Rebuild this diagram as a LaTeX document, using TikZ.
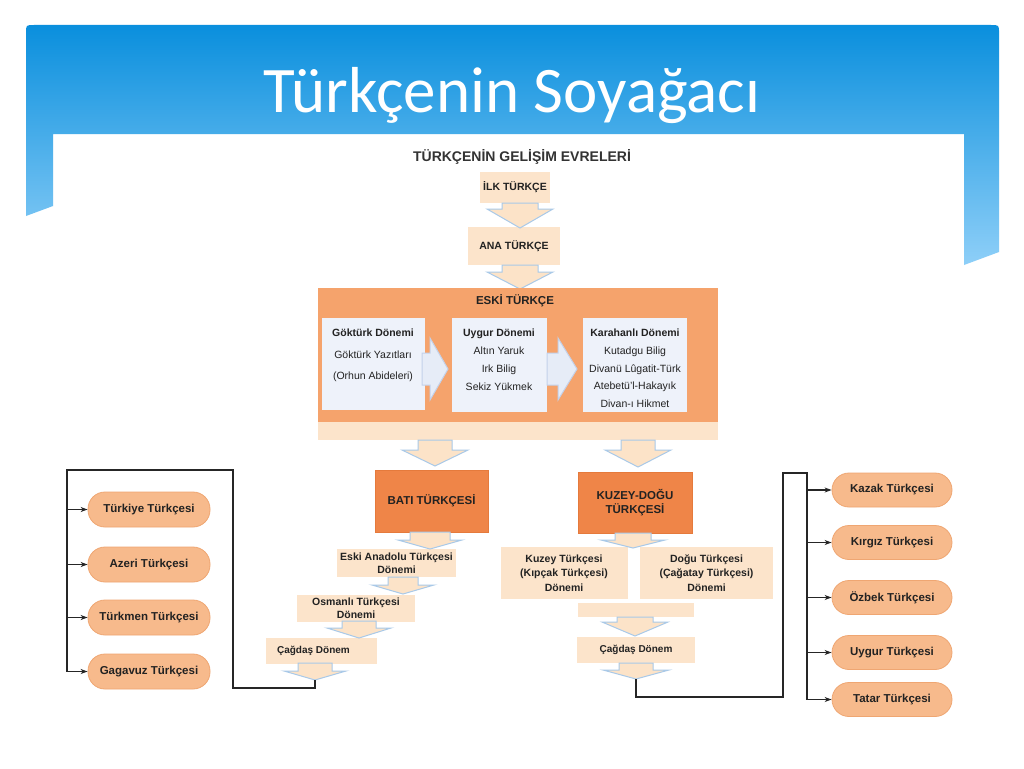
\documentclass[tikz,border=0pt]{standalone}
\usepackage{fontspec}
\setmainfont{Liberation Sans}
\newfontfamily\titlefont{Carlito}
\usetikzlibrary{arrows.meta}
\definecolor{peach}{HTML}{FCE4CB}
\definecolor{eskiorange}{HTML}{F5A36C}
\definecolor{darkor}{HTML}{EF8548}
\definecolor{darkoredge}{HTML}{E57A3C}
\definecolor{pillfill}{HTML}{F7BA8C}
\definecolor{pilledge}{HTML}{EFA672}
\definecolor{innerfill}{HTML}{EEF2FA}
\definecolor{arredge}{HTML}{A9C9E8}
\definecolor{arrfill}{HTML}{FCE3C8}
\definecolor{rarrfill}{HTML}{E6ECF7}
\definecolor{rarredge}{HTML}{C3D1EA}
\definecolor{blueTop}{HTML}{0A8FDD}
\definecolor{blueBot}{HTML}{8ECFF8}
\definecolor{inktext}{HTML}{222222}
\newcommand{\bdown}[6]{\draw[barrow] ({#1-#5},#2) -- ({#1+#5},#2) -- ({#1+#5},#3) -- ({#1+#6},#3) -- (#1,#4) -- ({#1-#6},#3) -- ({#1-#5},#3) -- cycle;}
\newcommand{\bright}[6]{\draw[rarrow] (#2,{#1-#5}) -- (#2,{#1+#5}) -- (#3,{#1+#5}) -- (#3,{#1+#6}) -- (#4,#1) -- (#3,{#1-#6}) -- (#3,{#1-#5}) -- cycle;}
\tikzset{
  barrow/.style={fill=arrfill, draw=arredge, line width=1pt, line join=miter},
  rarrow/.style={fill=rarrfill, draw=rarredge, line width=1pt},
  pbox/.style={fill=peach, draw=none, inner sep=0pt, align=center, text=inktext,
    font=\fontsize{10.5}{13.5}\selectfont\bfseries},
  obox/.style={fill=darkor, draw=darkoredge, line width=0.8pt, inner sep=0pt, align=center, text=inktext,
    font=\fontsize{11.5}{14}\selectfont\bfseries},
  ibox/.style={fill=innerfill, draw=none, inner sep=0pt},
  itext/.style={align=center, inner sep=0pt, anchor=north, text=inktext,
    font=\fontsize{10.5}{18}\selectfont},
  pillL/.style={fill=pillfill, draw=pilledge, line width=0.8pt, rounded corners=17pt,
    minimum width=122pt, minimum height=35pt, inner sep=0pt, text=inktext,
    font=\fontsize{11.5}{14}\selectfont\bfseries},
  pillR/.style={pillL, minimum width=120pt, minimum height=34pt},
  conn/.style={draw=black!85, line width=1.3pt},
  tip/.style={-{Stealth[length=7pt,width=5pt]}},
}
\begin{document}
\begin{tikzpicture}[x=1pt,y=-1pt]
\useasboundingbox (0,0) rectangle (1024,768);
\fill[white] (0,0) rectangle (1024,768);
% banner
\shade[top color=blueTop, bottom color=blueBot]
  (26,216) -- (26,33) .. controls (26,25) .. (34,25) -- (991,25) .. controls (999,25) .. (999,33)
  -- (999,252) -- (964,265) -- (964,134) -- (53,134) -- (53,206) -- cycle;
\node[anchor=base, text=white, font=\titlefont\fontsize{65}{70}\selectfont] (title) at (512,112) {Türkçenin Soyağacı};

% heading
\node[anchor=base, text=black!80, font=\fontsize{14}{16}\selectfont\bfseries] (head) at (522,161) {TÜRKÇENİN GELİŞİM EVRELERİ};

% top boxes
\node[pbox, minimum width=70pt, minimum height=31pt] (ilk) at (515,187.5) {İLK TÜRKÇE};
\node[pbox, minimum width=92pt, minimum height=38pt] (ana) at (514,246) {ANA TÜRKÇE};
\bdown{520}{203}{209}{228}{18}{33}
\bdown{520}{265}{272}{289}{18}{33}

% Eski Türkçe
\node[fill=eskiorange, minimum width=400pt, minimum height=134pt, inner sep=0pt] (eski) at (518,355) {};
\node[fill=peach, minimum width=400pt, minimum height=18pt, inner sep=0pt] (strip) at (518,431) {};
\node[text=inktext, font=\fontsize{11.5}{14}\selectfont\bfseries] (eskilbl) at (515,301) {ESKİ TÜRKÇE};
\node[ibox, minimum width=103pt, minimum height=92pt] (gok) at (373.5,364) {};
\node[ibox, minimum width=95pt, minimum height=94pt] (uyg) at (499.5,365) {};
\node[ibox, minimum width=104pt, minimum height=94pt] (kar) at (635,365) {};
\node[itext, font=\fontsize{10.5}{21.5}\selectfont] (goktxt) at (373,329) {\textbf{Göktürk Dönemi}\\Göktürk Yazıtları\\(Orhun Abideleri)};
\node[itext] (uygtxt) at (499,329) {\textbf{Uygur Dönemi}\\Altın Yaruk\\Irk Bilig\\Sekiz Yükmek};
\node[itext, font=\fontsize{10.5}{17.6}\selectfont] (kartxt) at (635,329) {\textbf{Karahanlı Dönemi}\\Kutadgu Bilig\\Divanü Lûgatit-Türk\\Atebetü'l-Hakayık\\Divan-ı Hikmet};
\bright{369}{422}{430}{448}{16}{31}
\bright{369}{547}{558}{577}{16}{31}

% branches
\node[obox, minimum width=113pt, minimum height=62pt] (bati) at (431.5,501) {BATI TÜRKÇESİ};
\node[obox, minimum width=114pt, minimum height=61pt] (kd) at (635,502.5) {KUZEY-DOĞU\\TÜRKÇESİ};
\bdown{435}{440}{450}{466}{17}{33}
\bdown{638}{440}{450}{467}{17}{33}

% west line
\node[pbox, minimum width=119pt, minimum height=28pt, font=\fontsize{10.5}{13}\selectfont\bfseries] (eskian) at (396.5,563) {Eski Anadolu Türkçesi\\Dönemi};
\node[pbox, minimum width=118pt, minimum height=27pt, font=\fontsize{10.5}{13.5}\selectfont\bfseries] (osm) at (356,608) {Osmanlı Türkçesi\\Dönemi};
\node[pbox, minimum width=111pt, minimum height=26pt, font=\fontsize{10}{12}\selectfont\bfseries] (cagL) at (321.5,651) {\hspace*{-16pt}Çağdaş Dönem};
\bdown{430}{532}{540}{549}{20}{32}
\bdown{403}{577}{585}{594}{15}{31}
\bdown{359}{621}{628}{638}{17}{32}
\bdown{315}{663}{671}{680}{17}{31}

% north-east line
\node[pbox, minimum width=127pt, minimum height=52pt, font=\fontsize{10.5}{14.5}\selectfont\bfseries] (kuzey) at (564,573) {Kuzey Türkçesi\\(Kıpçak Türkçesi)\\Dönemi};
\node[pbox, minimum width=133pt, minimum height=52pt, font=\fontsize{10.5}{14.5}\selectfont\bfseries] (dogu) at (706.5,573) {Doğu Türkçesi\\(Çağatay Türkçesi)\\Dönemi};
\node[fill=peach, minimum width=116pt, minimum height=14pt, inner sep=0pt] (merge) at (636,610) {};
\node[pbox, minimum width=118pt, minimum height=26pt, font=\fontsize{10}{12}\selectfont\bfseries] (cagR) at (636,650) {Çağdaş Dönem};
\bdown{633}{533}{540}{548}{18}{32}
\bdown{635}{617}{622}{636}{18}{33}
\bdown{636}{663}{670}{679}{17}{33}

% left pills
\node[pillL] (tur) at (149,509.5) {Türkiye Türkçesi};
\node[pillL] (aze) at (149,564.5) {Azeri Türkçesi};
\node[pillL] (trk) at (149,617.5) {Türkmen Türkçesi};
\node[pillL] (gag) at (149,671.5) {Gagavuz Türkçesi};

% right pills
\node[pillR] (kaz) at (892,490) {Kazak Türkçesi};
\node[pillR] (kir) at (892,542.5) {Kırgız Türkçesi};
\node[pillR] (ozb) at (892,597.5) {Özbek Türkçesi};
\node[pillR] (uygt) at (892,652.5) {Uygur Türkçesi};
\node[pillR] (tat) at (892,699.5) {Tatar Türkçesi};

% left connectors
\coordinate (cL) at (315,680);
\coordinate (lb) at (233,688);
\coordinate (lt) at (233,470);
\coordinate (lx) at (67,470);
\draw[conn] (cL) |- (lb) -- (lt) -- (lx) -- (lx |- gag.west);
\foreach \p in {tur,aze,trk,gag} \draw[conn,tip] (lx |- \p.west) -- (\p.west);

% right connectors
\coordinate (cR) at (636,679);
\coordinate (rb) at (783,697);
\coordinate (rt) at (783,473);
\coordinate (rx) at (807,473);
\draw[conn] (cR) |- (rb) -- (rt) -- (rx) -- (rx |- tat.west);
\foreach \p in {kaz,kir,ozb,uygt,tat} \draw[conn,tip] (rx |- \p.west) -- (\p.west);
\end{tikzpicture}
\end{document}
